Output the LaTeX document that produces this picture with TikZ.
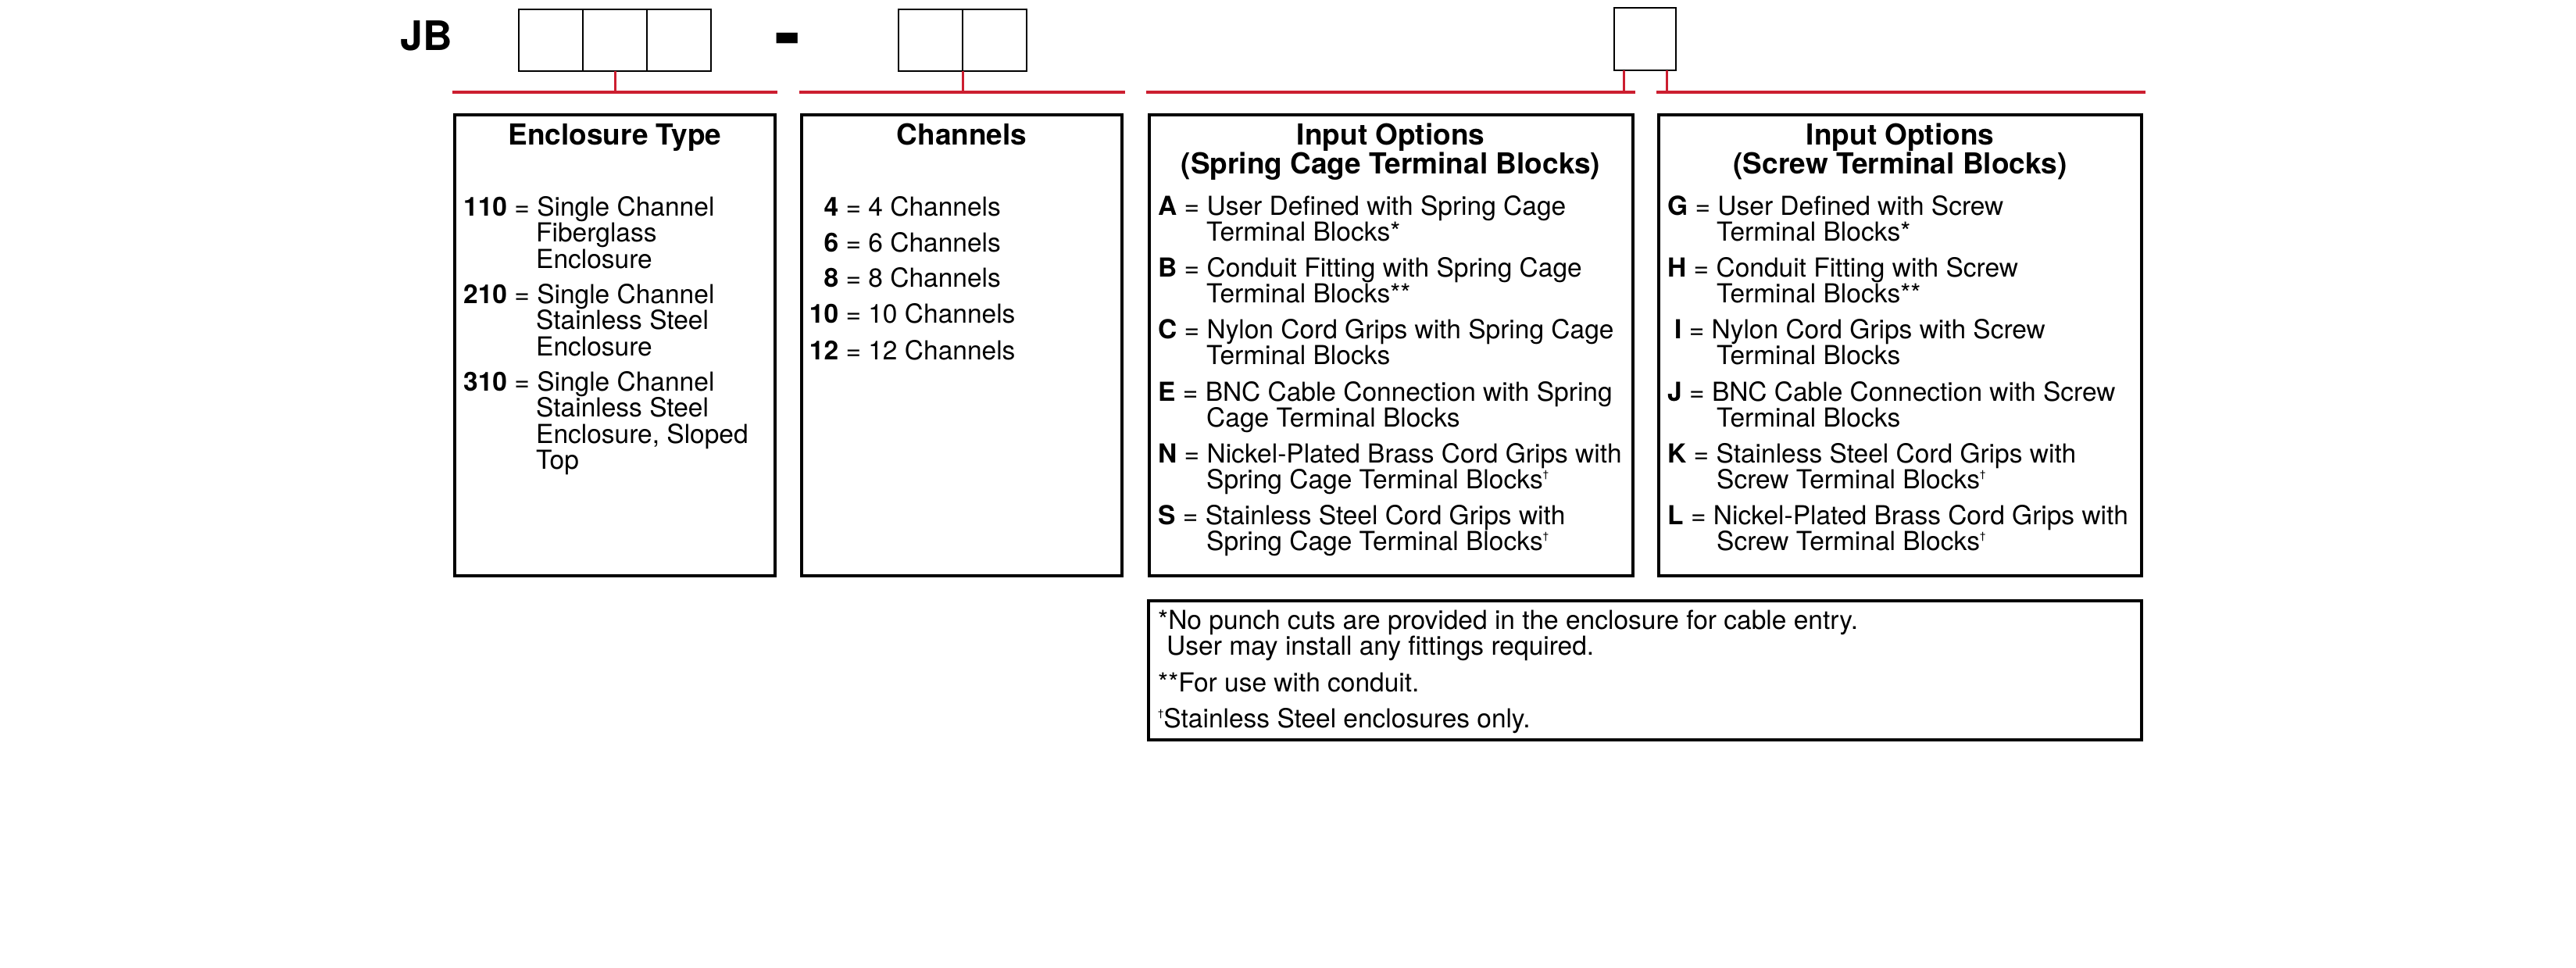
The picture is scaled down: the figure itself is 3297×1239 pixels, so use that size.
\documentclass[tikz,border=0pt]{standalone}
\usepackage{fontspec}
\setmainfont{TeX Gyre Heros}
\usetikzlibrary{calc}
\definecolor{jbred}{RGB}{204,30,48}
\newcommand{\jbdag}{\raisebox{14pt}{\fontsize{13}{13}\selectfont †}}
\newcommand{\jbnum}[1]{\makebox[37pt][r]{\bfseries #1}}
\begin{document}
\begin{tikzpicture}[x=1pt,y=-1pt,
  codecell/.style={draw, line width=2.5pt, minimum width=82pt, minimum height=79pt, inner sep=0pt, outer sep=0pt, anchor=north west},
  panel/.style={draw, line width=4.5pt, inner sep=0pt, outer sep=0pt, anchor=north west, minimum height=590pt},
  redline/.style={draw=jbred, line width=4pt},
  redtick/.style={draw=jbred, line width=3pt},
  titletext/.style={font=\fontsize{37}{37}\selectfont\bfseries, inner sep=0pt, anchor=base},
  body/.style={font=\fontsize{33.5}{33.5}\selectfont, inner sep=0pt, anchor=base west}]
\useasboundingbox (0,0) rectangle (3297,1239);

% code line
\node[font=\fontsize{52}{52}\selectfont\bfseries, anchor=base west, inner sep=0pt] (jb) at (512,65) {JB};
\node[codecell] (e1) at (664,12) {};
\node[codecell] (e2) at (746,12) {};
\node[codecell] (e3) at (828,12) {};
\node[font=\fontsize{100}{100}\selectfont\bfseries, anchor=base west, inner sep=0pt] (dash) at (991,77) {-};
\node[codecell] (c1) at (1150,12) {};
\node[codecell] (c2) at (1232,12) {};
\node[codecell, minimum width=79pt, minimum height=80pt] (o1) at (2066,10) {};

% red brackets
\coordinate (r1a) at (579,118); \coordinate (r1b) at (995,118);
\coordinate (r2a) at (1023,118); \coordinate (r2b) at (1440,118);
\coordinate (r3a) at (1467,118); \coordinate (r3b) at (2093,118);
\coordinate (r4a) at (2120,118); \coordinate (r4b) at (2746,118);
\draw[redline] (r1a) -- (r1b);
\draw[redline] (r2a) -- (r2b);
\draw[redline] (r3a) -- (r3b);
\draw[redline] (r4a) -- (r4b);
\coordinate (o1l) at ($(o1.south west)+(12,0)$);
\coordinate (o1r) at ($(o1.south east)+(-12,0)$);
\draw[redtick] (e2.south) -- (e2.south |- r1a);
\draw[redtick] (c1.south east) -- (c1.south east |- r2a);
\draw[redtick] (o1l) -- (o1l |- r3a);
\draw[redtick] (o1r) -- (o1r |- r4a);

% panels
\node[panel, minimum width=410pt] (p1) at (582,147) {};
\node[panel, minimum width=410pt] (p2) at (1026,147) {};
\node[panel, minimum width=619pt] (p3) at (1471,147) {};
\node[panel, minimum width=618pt] (p4) at (2123,147) {};
\node[panel, minimum width=1271pt, minimum height=178pt] (fn) at (1470,769) {};

% titles
\node[titletext] (t1) at (787,185) {Enclosure Type};
\node[titletext] (t2) at (1231,185) {Channels};
\node[titletext] (t3a) at (1780,185) {Input Options};
\node[titletext] (t3b) at (1780,222) {(Spring Cage Terminal Blocks)};
\node[titletext] (t4a) at (2432,185) {Input Options};
\node[titletext] (t4b) at (2432,222) {(Screw Terminal Blocks)};

% enclosure type
\node[body] (en1) at (593,276) {\textbf{110} = Single Channel};
\node[body] (en2) at (686,309.5) {Fiberglass};
\node[body] (en3) at (686,343) {Enclosure};
\node[body] (en4) at (593,388) {\textbf{210} = Single Channel};
\node[body] (en5) at (686,421.5) {Stainless Steel};
\node[body] (en6) at (686,455) {Enclosure};
\node[body] (en7) at (593,500) {\textbf{310} = Single Channel};
\node[body] (en8) at (686,533.5) {Stainless Steel};
\node[body] (en9) at (686,567) {Enclosure, Sloped};
\node[body] (en10) at (686,600.5) {Top};

% channels
\node[body] (ch1) at (1036,276) {\jbnum{4} = 4 Channels};
\node[body] (ch2) at (1036,322) {\jbnum{6} = 6 Channels};
\node[body] (ch3) at (1036,367) {\jbnum{8} = 8 Channels};
\node[body] (ch4) at (1036,413) {\jbnum{10} = 10 Channels};
\node[body] (ch5) at (1036,460) {\jbnum{12} = 12 Channels};

% spring cage
\node[body] (sa1) at (1482,275) {\textbf{A} = User Defined with Spring Cage};
\node[body] (sa2) at (1544,308.5) {Terminal Blocks*};
\node[body] (sb1) at (1482,354) {\textbf{B} = Conduit Fitting with Spring Cage};
\node[body] (sb2) at (1544,387.5) {Terminal Blocks**};
\node[body] (sc1) at (1482,433) {\textbf{C} = Nylon Cord Grips with Spring Cage};
\node[body] (sc2) at (1544,466.5) {Terminal Blocks};
\node[body] (se1) at (1482,513) {\textbf{E} = BNC Cable Connection with Spring};
\node[body] (se2) at (1544,546.5) {Cage Terminal Blocks};
\node[body] (sn1) at (1482,592) {\textbf{N} = Nickel-Plated Brass Cord Grips with};
\node[body] (sn2) at (1544,625.5) {Spring Cage Terminal Blocks\jbdag};
\node[body] (ss1) at (1482,671) {\textbf{S} = Stainless Steel Cord Grips with};
\node[body] (ss2) at (1544,704.5) {Spring Cage Terminal Blocks\jbdag};

% screw
\node[body] (wg1) at (2134,275) {\textbf{G} = User Defined with Screw};
\node[body] (wg2) at (2197,308.5) {Terminal Blocks*};
\node[body] (wh1) at (2134,354) {\textbf{H} = Conduit Fitting with Screw};
\node[body] (wh2) at (2197,387.5) {Terminal Blocks**};
\node[body] (wi1) at (2143,433) {\textbf{I} = Nylon Cord Grips with Screw};
\node[body] (wi2) at (2197,466.5) {Terminal Blocks};
\node[body] (wj1) at (2134,513) {\textbf{J} = BNC Cable Connection with Screw};
\node[body] (wj2) at (2197,546.5) {Terminal Blocks};
\node[body] (wk1) at (2134,592) {\textbf{K} = Stainless Steel Cord Grips with};
\node[body] (wk2) at (2197,625.5) {Screw Terminal Blocks\jbdag};
\node[body] (wl1) at (2134,671) {\textbf{L} = Nickel-Plated Brass Cord Grips with};
\node[body] (wl2) at (2197,704.5) {Screw Terminal Blocks\jbdag};

% footnotes
\node[body] (f1) at (1482,805) {*No punch cuts are provided in the enclosure for cable entry.};
\node[body] (f2) at (1493,838) {User may install any fittings required.};
\node[body] (f3) at (1482,885) {**For use with conduit.};
\node[body] (f4) at (1482,931) {\jbdag Stainless Steel enclosures only.};
\end{tikzpicture}
\end{document}
